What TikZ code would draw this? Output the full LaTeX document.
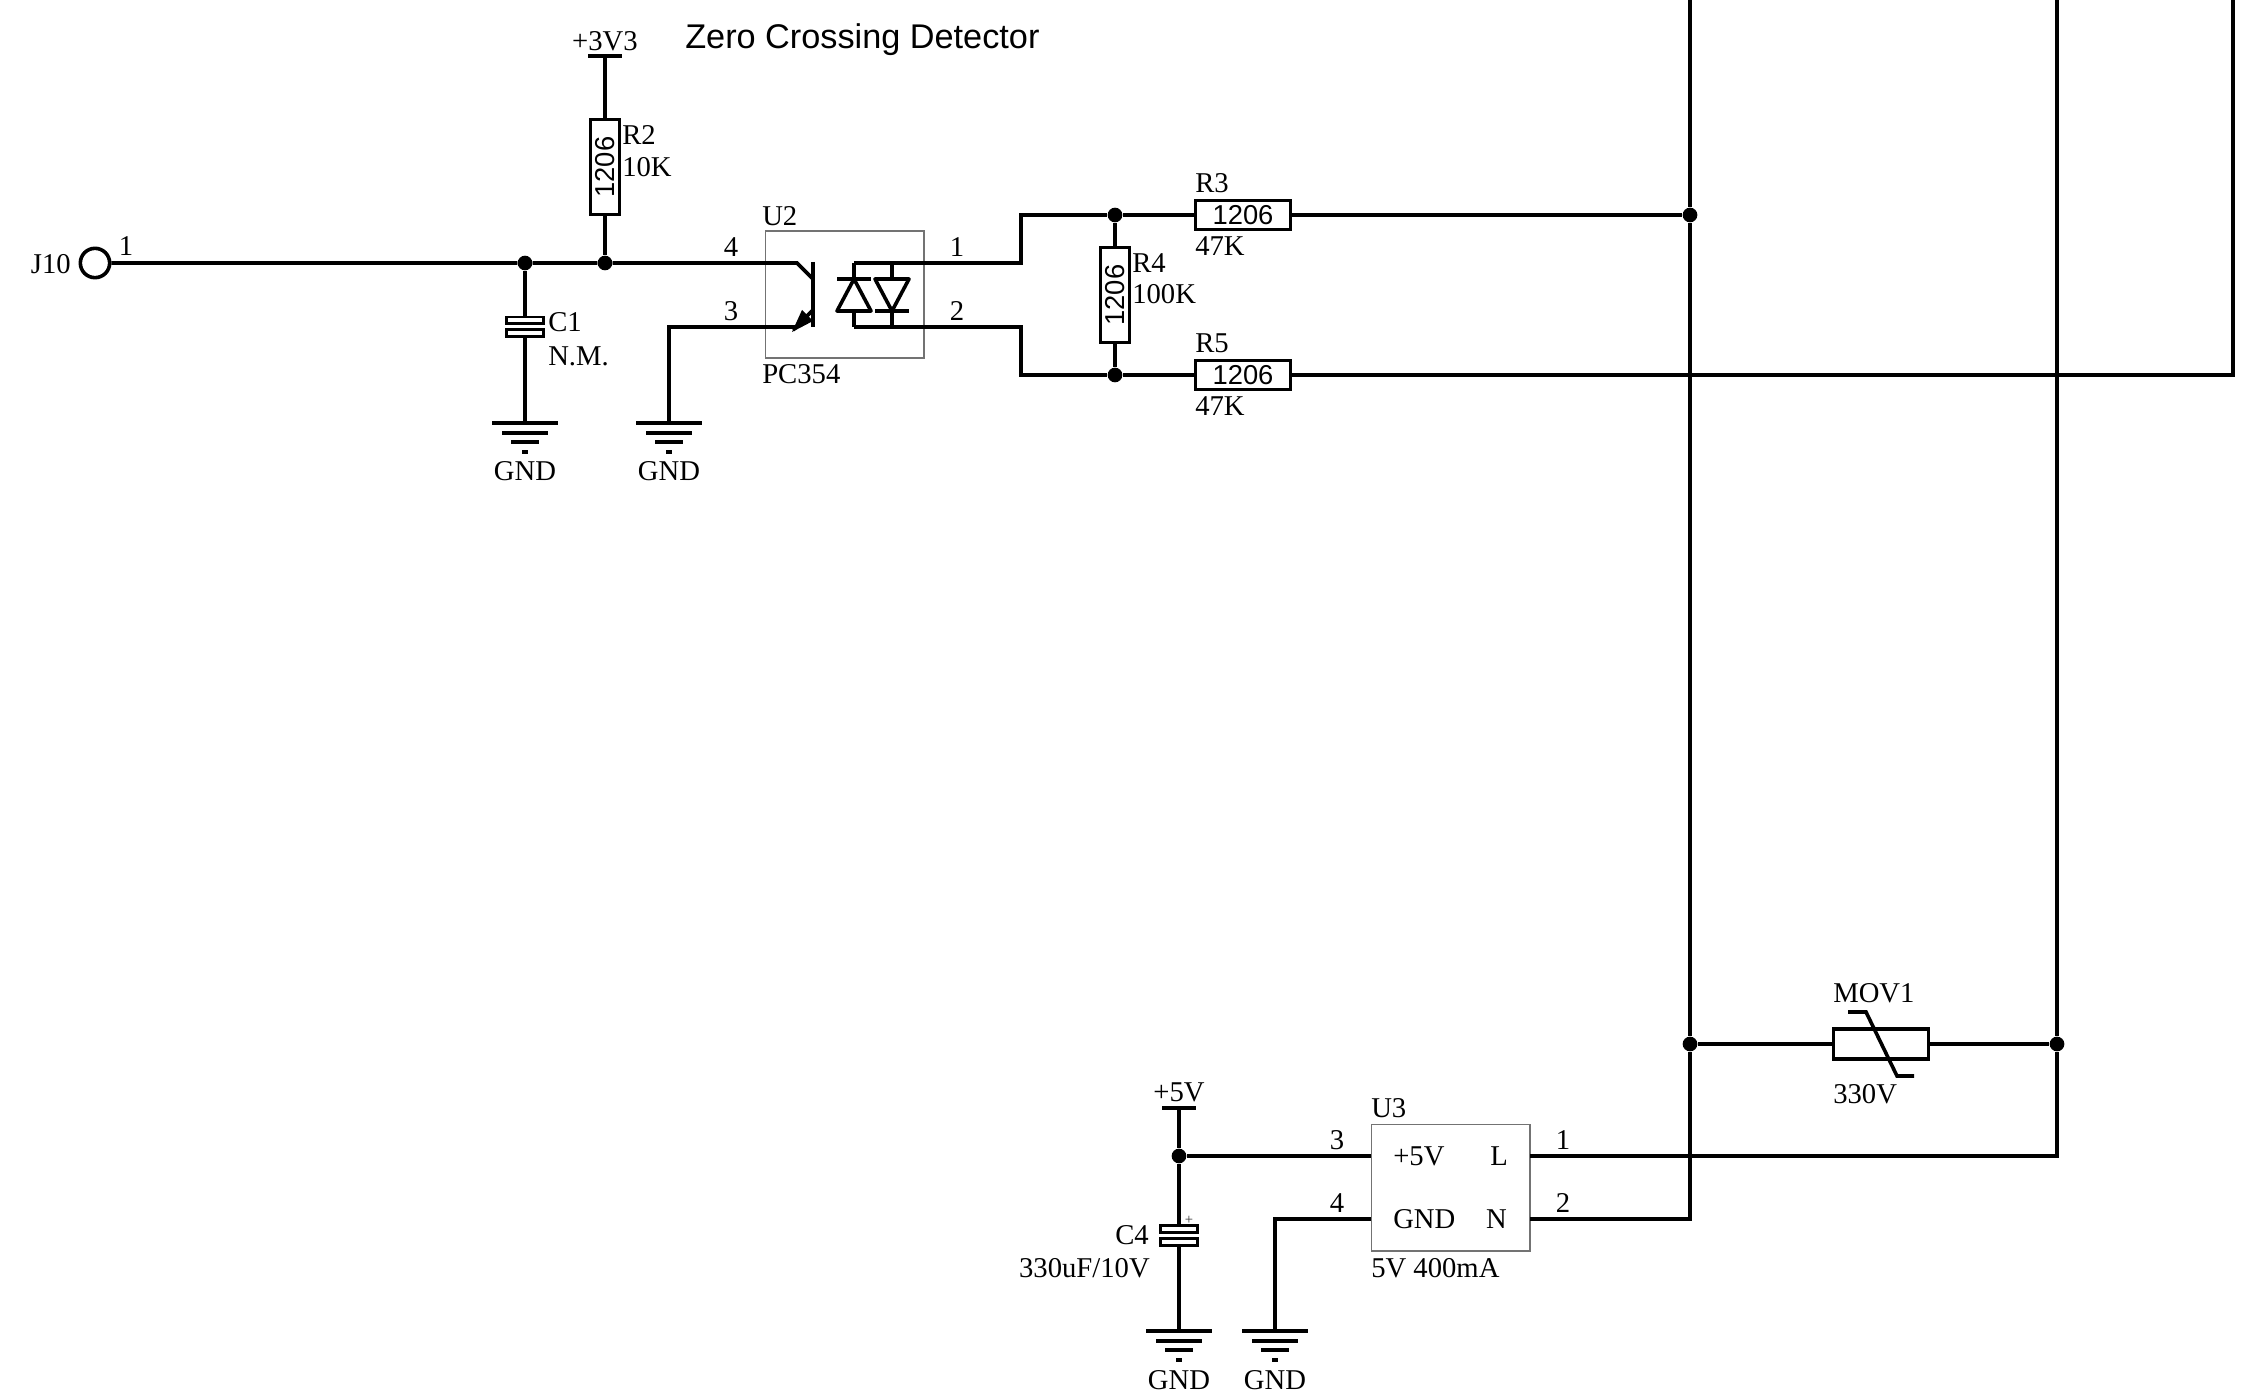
\documentclass[tikz,border=0pt]{standalone}
\usepackage{fontspec}
\setmainfont{Liberation Serif}
\newfontfamily\titlefont{Liberation Sans}
\usepackage{tikz}

\begin{document}
\begin{tikzpicture}[x=0.75pt,y=0.75pt,yscale=-1,xscale=1,
  wire/.style={line width=2.7pt},
  lab/.style={inner sep=0pt,yshift=-3.4pt,text height=0.66em,text depth=0pt,font=\fontsize{21.5}{24}\selectfont},
  res/.style={draw,line width=2.7pt,minimum width=71pt,minimum height=22pt,inner sep=0pt,font=\titlefont\fontsize{20.5}{22}\selectfont},
  plate/.style={draw,line width=2pt,minimum width=28pt,minimum height=5pt,inner sep=0pt},
  dot/.style={circle,fill=black,minimum size=11pt,inner sep=0pt},
  pack/.style={draw=black!55,line width=1pt,inner sep=0pt}]
\useasboundingbox (0,0) rectangle (2249,1398);

% Text Node
\node (title) [anchor=west,inner sep=0pt,font=\titlefont\fontsize{25.7}{28}\selectfont] at (685,40) {Zero Crossing Detector};

% Packages
\node (U2) [pack,minimum width=119pt,minimum height=95pt] at (844.5,294.5) {};
\node (U3) [pack,minimum width=119pt,minimum height=95pt] at (1450.5,1187.5) {};

% Resistors
\node (R2) [res,rotate=90] at (605,167) {1206};
\node (R3) [res] at (1243,215) {1206};
\node (R4) [res,rotate=90] at (1115,295) {1206};
\node (R5) [res] at (1243,375) {1206};
\node (MOV1) [res,minimum height=22.5pt] at (1881,1044) {};

% Capacitors
\node (C1a) [plate] at (525,320.5) {};
\node (C1b) [plate] at (525,333) {};
\node (C4a) [plate] at (1179,1229) {};
\node (C4b) [plate] at (1179,1242) {};

% Junctions
\node (J10) [circle,draw,line width=2.7pt,minimum size=22pt,inner sep=0pt] at (95,263) {};
\node (j1) [dot] at (525,263) {};
\node (j2) [dot] at (605,263) {};
\node (j3) [dot] at (1115,215) {};
\node (j4) [dot] at (1115,375) {};
\node (j5) [dot] at (1690,215) {};
\node (j6) [dot] at (1690,1044) {};
\node (j7) [dot] at (2057,1044) {};
\node (j8) [dot] at (1179,1156) {};

% Free ends
\coordinate (vcc) at (605,56);
\coordinate (vdd) at (1179,1108);
\coordinate (gnd1) at (525,423);
\coordinate (gnd2) at (669,423);
\coordinate (gnd3) at (1179,1331);
\coordinate (gnd4) at (1275,1331);
\coordinate (qc) at (797,263);
\coordinate (qb) at (813,279);
\coordinate (qe) at (813,310);
\coordinate (qt) at (793,330);
\coordinate (e3) at (669,327);
\coordinate (e4) at (795,327);
\coordinate (p1) at (1021,263);
\coordinate (p2) at (1021,327);
\coordinate (d1t) at (854,263);
\coordinate (d1b) at (854,327);
\coordinate (d2t) at (892,263);
\coordinate (d2b) at (892,327);
\coordinate (railA) at (1690,0);
\coordinate (railB) at (2057,0);
\coordinate (railC) at (2233,0);
\coordinate (railCb) at (2233,375);
\coordinate (u3L) at (1530,1156);
\coordinate (u3N) at (1530,1219);
\coordinate (u3P) at (1371,1156);
\coordinate (u3G) at (1371,1219);
\coordinate (u3Gc) at (1275,1219);

%Straight Lines
\draw [wire] (J10) -- (j1) -- (j2) -- (qc) -- (qb);
\draw [wire] (vcc) -- (R2) -- (j2);
\draw [wire] (j1) -- (C1a);
\draw [wire] (C1b) -- (gnd1);
\draw [wire] (gnd2) -- (e3) -- (e4);
\draw [wire] (d1t) -- (p1) -- (1021,215) -- (j3) -- (R3) -- (j5);
\draw [wire] (d1b) -- (p2) -- (1021,375) -- (j4) -- (R5) -- (railCb) -- (railC);
\draw [wire] (j3) -- (R4) -- (j4);
\draw [wire] (railA) -- (j5) -- (j6) -- (1690,1219) -- (u3N);
\draw [wire] (railB) -- (j7) -- (2057,1156) -- (u3L);
\draw [wire] (j6) -- (MOV1) -- (j7);
\draw [wire] (vdd) -- (j8) -- (C4a);
\draw [wire] (C4b) -- (gnd3);
\draw [wire] (j8) -- (u3P);
\draw [wire] (u3G) -- (u3Gc) -- (gnd4);

% Supply bars
\draw [wire] (vcc) ++(-17,0) -- ++(34,0);
\draw [wire] (vdd) ++(-17,0) -- ++(34,0);

% Ground symbols
\draw [wire] (gnd1) ++(-33,0) -- ++(66,0) ++(-56,10) -- ++(46,0) ++(-37,9) -- ++(28,0) ++(-17,10) -- ++(6,0);
\draw [wire] (gnd2) ++(-33,0) -- ++(66,0) ++(-56,10) -- ++(46,0) ++(-37,9) -- ++(28,0) ++(-17,10) -- ++(6,0);
\draw [wire] (gnd3) ++(-33,0) -- ++(66,0) ++(-56,10) -- ++(46,0) ++(-37,9) -- ++(28,0) ++(-17,10) -- ++(6,0);
\draw [wire] (gnd4) ++(-33,0) -- ++(66,0) ++(-56,10) -- ++(46,0) ++(-37,9) -- ++(28,0) ++(-17,10) -- ++(6,0);

% Transistor
\draw [wire] (813,262) -- (813,327);
\draw [wire] (qe) -- (qt);
\fill (792,332) -- (813,321) -- (802,310) -- cycle;

% Diodes
\draw [wire] (d1t) -- (854,279);
\draw [wire] (837,279) -- (871,279);
\draw [wire,line join=round] (854,279) -- (871,311) -- (837,311) -- cycle;
\draw [wire] (854,311) -- (d1b);
\draw [wire] (d2t) -- (892,279);
\draw [wire] (875,311) -- (909,311);
\draw [wire,line join=round] (892,311) -- (875,279) -- (909,279) -- cycle;
\draw [wire] (892,311) -- (d2b);

% Varistor slash
\draw [wire] (1848,1012) -- (1866,1012) -- (1897,1076) -- (1914,1076);

% Text Node
\node (tVcc) [lab] at (605,42) {+3V3};
\node (tVdd) [lab] at (1179,1093) {+5V};
\node (tJ10) [lab,anchor=east] at (71,265) {J10};
\node (tJ1) [lab] at (126,247) {1};
\node (tP4) [lab] at (731,248) {4};
\node (tP3) [lab] at (731,312) {3};
\node (tP1) [lab] at (957,248) {1};
\node (tP2) [lab] at (957,312) {2};
\node (tU2) [lab,anchor=west] at (762,217) {U2};
\node (tU2v) [lab,anchor=west] at (762,375) {PC354};
\node (tR2) [lab,anchor=west] at (622,136) {R2};
\node (tR2v) [lab,anchor=west] at (622,168) {10K};
\node (tC1) [lab,anchor=west] at (548,323) {C1};
\node (tC1v) [lab,anchor=west] at (548,357) {N.M.};
\node (tG1) [lab] at (525,472) {GND};
\node (tG2) [lab] at (669,472) {GND};
\node (tR3) [lab,anchor=west] at (1195,184) {R3};
\node (tR3v) [lab,anchor=west] at (1195,247) {47K};
\node (tR4) [lab,anchor=west] at (1132,264) {R4};
\node (tR4v) [lab,anchor=west] at (1132,295) {100K};
\node (tR5) [lab,anchor=west] at (1195,344) {R5};
\node (tR5v) [lab,anchor=west] at (1195,407) {47K};
\node (tMOV) [lab,anchor=west] at (1833,994) {MOV1};
\node (tMOVv) [lab,anchor=west] at (1833,1095) {330V};
\node (tU3) [lab,anchor=west] at (1371,1109) {U3};
\node (tU3v) [lab,anchor=west] at (1371,1269) {5V 400mA};
\node (tPp) [lab,anchor=west] at (1393,1157) {+5V};
\node (tPL) [lab] at (1499,1157) {L};
\node (tPG) [lab,anchor=west] at (1393,1220) {GND};
\node (tPN) [lab,anchor=east] at (1507,1220) {N};
\node (tU33) [lab] at (1337,1141) {3};
\node (tU34) [lab] at (1337,1204) {4};
\node (tU31) [lab] at (1563,1141) {1};
\node (tU32) [lab] at (1563,1204) {2};
\node (tC4) [lab,anchor=east] at (1149,1236) {C4};
\node (tC4v) [lab,anchor=east] at (1150,1269) {330uF/10V};
\node (tPlus) [inner sep=0pt,font=\fontsize{11}{12}\selectfont,text=black!80] at (1189,1220) {+};
\node (tG3) [lab] at (1179,1381) {GND};
\node (tG4) [lab] at (1275,1381) {GND};

\end{tikzpicture}
\end{document}
